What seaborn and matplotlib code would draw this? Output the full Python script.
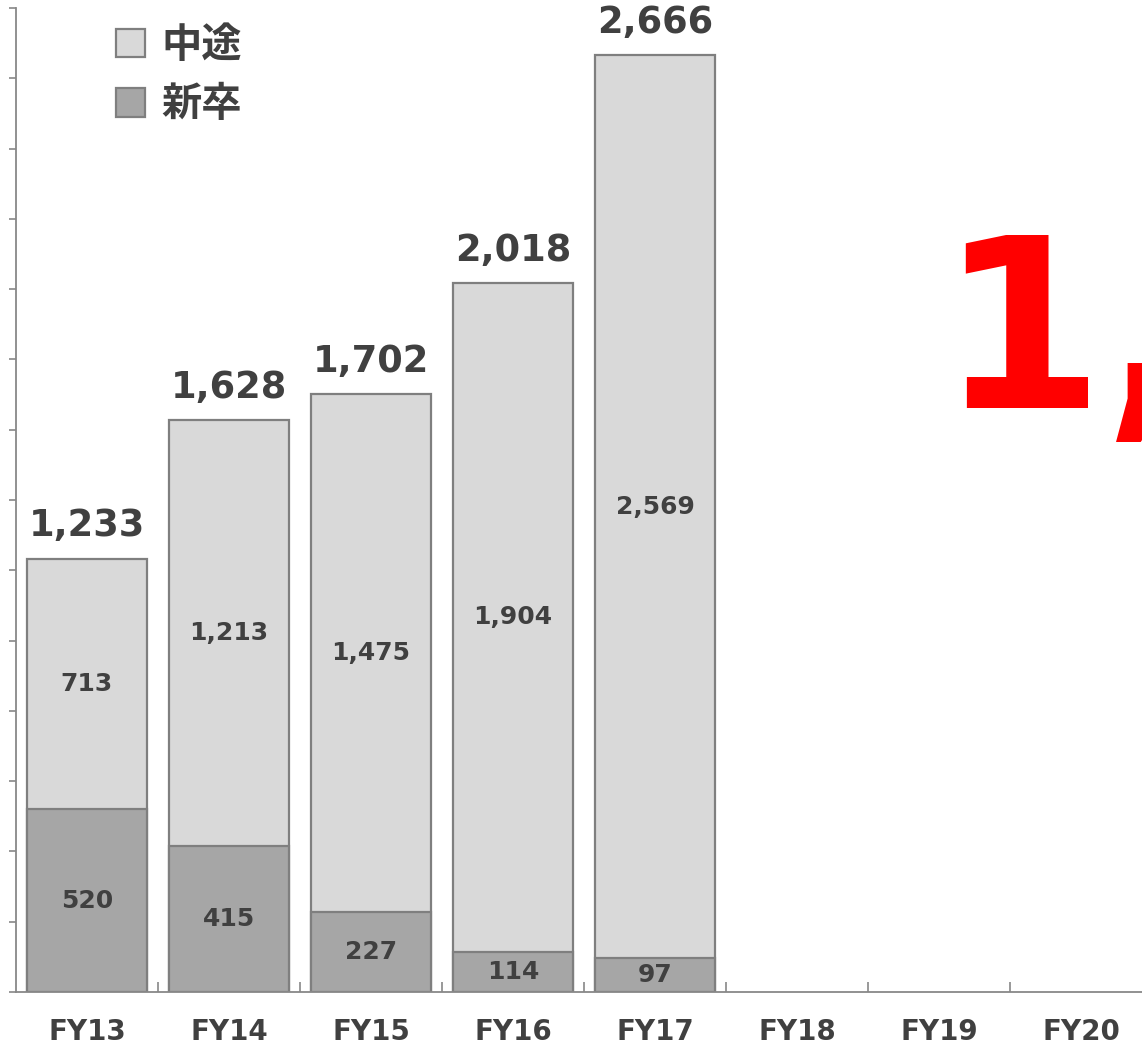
import numpy as np
import pandas as pd
import matplotlib
matplotlib.use("Agg")
import matplotlib.pyplot as plt
import seaborn as sns
from matplotlib.patches import Patch

# data
years = ["FY13", "FY14", "FY15", "FY16", "FY17", "FY18", "FY19", "FY20"]
shinsotsu = [520, 415, 227, 114, 97]      # new graduates
chuto = [713, 1213, 1475, 1904, 2569]     # mid-career
totals = [a + b for a, b in zip(shinsotsu, chuto)]

light = "#D9D9D9"
dark = "#A6A6A6"
edge = "#7F7F7F"
txt = "#404040"

sns.set_style("white")
plt.rcParams["font.family"] = ["DejaVu Sans", "Noto Sans CJK JP"]
plt.rcParams["font.weight"] = "bold"

df = pd.DataFrame({"year": years[:len(totals)], "total": totals,
                   "shinsotsu": shinsotsu, "chuto": chuto})

fig = plt.figure(figsize=(11.42, 10.47), dpi=100)
ax = fig.add_axes([16 / 1142, 55 / 1047, 1136 / 1142, 984 / 1047])

# total bar in light grey, new grads drawn over it from the bottom
sns.barplot(data=df, x="year", y="total", order=years, color=light,
            width=0.84, edgecolor=edge, linewidth=1.6, saturation=1, ax=ax)
sns.barplot(data=df, x="year", y="shinsotsu", order=years, color=dark,
            width=0.84, edgecolor=edge, linewidth=1.6, saturation=1, ax=ax)

ax.set_xlim(-0.5, len(years) - 0.5)
ax.set_ylim(0, 2800)
ax.set_xlabel("")
ax.set_ylabel("")

# segment labels
for i in range(len(totals)):
    ax.text(i, shinsotsu[i] / 2, f"{shinsotsu[i]:,}", ha="center", va="center",
            fontsize=18, fontweight="bold", color=txt)
    ax.text(i, shinsotsu[i] + chuto[i] / 2, f"{chuto[i]:,}", ha="center",
            va="center", fontsize=18, fontweight="bold", color=txt)
    ax.annotate(f"{totals[i]:,}", (i, totals[i]), xytext=(0, 16),
                textcoords="offset points", ha="center", va="baseline",
                fontsize=26.5, fontweight="bold", color=txt)

# axes styling
for s in ["top", "right"]:
    ax.spines[s].set_visible(False)
for s in ["left", "bottom"]:
    ax.spines[s].set_color("#888888")
    ax.spines[s].set_linewidth(1.3)

ax.set_yticks(np.arange(0, 2801, 200))
ax.set_yticklabels([])
ax.tick_params(axis="y", direction="out", length=5, width=1.2, color="#888888", left=True)
ax.set_xticks(range(len(years)))
ax.set_xticklabels(years, fontsize=20, fontweight="bold", color=txt)
ax.tick_params(axis="x", length=0, pad=19)
ax.set_xticks(np.arange(0.5, len(years) - 0.5, 1), minor=True)
ax.tick_params(axis="x", which="minor", direction="in", length=7, width=1.2,
               color="#888888", bottom=True)

handles = [Patch(facecolor=light, edgecolor=edge, linewidth=1.6, label="中途"),
           Patch(facecolor=dark, edgecolor=edge, linewidth=1.6, label="新卒")]
leg = ax.legend(handles=handles, loc="upper left", bbox_to_anchor=(116 / 1142, 1 - 26 / 1047),
                bbox_transform=fig.transFigure, frameon=False, fontsize=29,
                handlelength=0.72, handleheight=0.72, handletextpad=0.4,
                labelspacing=0.48, borderpad=0, borderaxespad=0)
for t in leg.get_texts():
    t.set_color(txt)
    t.set_fontweight("bold")

# big red number running off the right edge
fig.text(938 / 1142, 1 - 408 / 1047, "1,", ha="left", va="baseline",
         fontsize=171, fontweight="bold", color="#FF0000")

fig.savefig("out.png", dpi=100)
